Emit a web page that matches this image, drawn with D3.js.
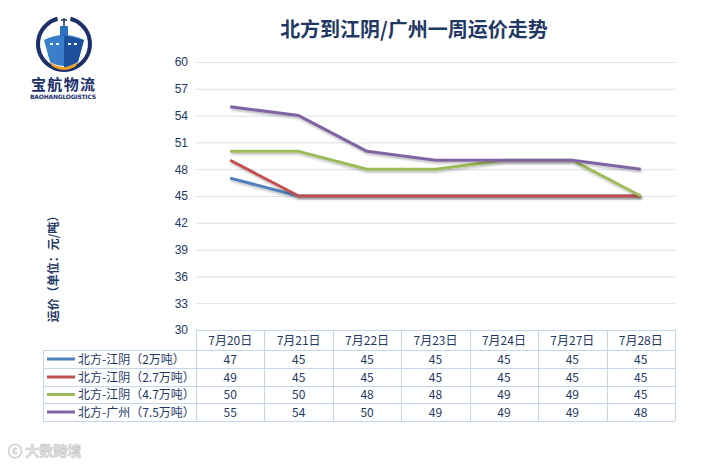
<!DOCTYPE html>
<html>
<head>
<meta charset="utf-8">
<script src="https://cdn.jsdelivr.net/npm/d3@7"></script>
<style>
  body { margin: 0; background: #fff; }
  svg { display: block; font-family: "Microsoft YaHei", "Noto Sans CJK SC", sans-serif; }
</style>
</head>
<body>
<div id="chart"></div>
<script>
// data
var categories = ["7月20日", "7月21日", "7月22日", "7月23日", "7月24日", "7月27日", "7月28日"];
var seriesNames = ["北方-江阴（2万吨）", "北方-江阴（2.7万吨）", "北方-江阴（4.7万吨）", "北方-广州（7.5万吨）"];
var jiangyin2 = [47, 45, 45, 45, 45, 45, 45];
var jiangyin27 = [49, 45, 45, 45, 45, 45, 45];
var jiangyin47 = [50, 50, 48, 48, 49, 49, 45];
var guangzhou75 = [55, 54, 50, 49, 49, 49, 48];
var yTicks = [30, 33, 36, 39, 42, 45, 48, 51, 54, 57, 60];
var colors = ["#4f81bd", "#c0504d", "#9bbb59", "#8064a2"];

var series = [jiangyin2, jiangyin27, jiangyin47, guangzhou75];

var W = 709, H = 464;
var plotLeft = 196, plotRight = 675, plotTop = 62, plotBottom = 330;
var textColor = "#1f3864";

var svg = d3.select("#chart").append("svg")
    .attr("width", W)
    .attr("height", H);

var defs = svg.append("defs");
var f = defs.append("filter").attr("id", "shadow").attr("x", "-5%").attr("y", "-20%").attr("width", "110%").attr("height", "140%");
f.append("feDropShadow").attr("dx", 1).attr("dy", 2).attr("stdDeviation", 1).attr("flood-color", "#000").attr("flood-opacity", 0.25);

var xScale = d3.scaleBand()
    .domain(categories)
    .range([plotLeft, plotRight]);

var yScale = d3.scaleLinear()
    .domain([30, 60])
    .range([plotBottom, plotTop]);

// title
svg.append("text")
    .attr("x", 414)
    .attr("y", 37)
    .attr("text-anchor", "middle")
    .attr("font-size", 20)
    .attr("font-weight", "bold")
    .attr("fill", textColor)
    .text("北方到江阴/广州一周运价走势");

// y axis + grid
var yAxis = d3.axisLeft(yScale)
    .tickValues(yTicks)
    .tickSize(-(plotRight - plotLeft))
    .tickPadding(8);

var yAxisGroup = svg.append("g")
    .attr("class", "y axis")
    .attr("transform", "translate(" + plotLeft + ",0)")
    .call(yAxis);

yAxisGroup.select(".domain").remove();
yAxisGroup.selectAll("line").attr("stroke", "#d9e1ea").attr("stroke-width", 1);
yAxisGroup.selectAll("text")
    .attr("font-size", 12)
    .attr("fill", textColor)
    .attr("font-family", "Liberation Sans, Arial, sans-serif");

// y label
svg.append("text")
    .attr("transform", "translate(58,266) rotate(-90)")
    .attr("text-anchor", "middle")
    .attr("font-size", 12)
    .attr("font-weight", "bold")
    .attr("fill", textColor)
    .text("运价（单位：元/吨）");

// lines
var line = d3.line()
    .x(function(d, i) { return xScale(categories[i]) + xScale.bandwidth() / 2; })
    .y(function(d) { return yScale(d); });

svg.selectAll(".series")
    .data(series)
    .enter()
    .append("path")
    .attr("class", "series")
    .attr("d", line)
    .attr("fill", "none")
    .attr("stroke", function(d, i) { return colors[i]; })
    .attr("stroke-width", 3)
    .attr("stroke-linejoin", "round")
    .attr("filter", "url(#shadow)");

// data table
var rowTops = [330, 350, 368, 386, 403, 421];
var tableLeft = 43;
var border = "#c6d6ea";
var tbl = svg.append("g").attr("class", "table");

// horizontal lines
tbl.selectAll(".hline")
    .data(rowTops)
    .enter()
    .append("line")
    .attr("x1", function(d, i) { return i === 0 ? plotLeft : tableLeft; })
    .attr("x2", plotRight)
    .attr("y1", function(d) { return d + 0.5; })
    .attr("y2", function(d) { return d + 0.5; })
    .attr("stroke", border);

// vertical lines
var colEdges = categories.map(function(c) { return xScale(c); }).concat([plotRight]);
tbl.selectAll(".vline")
    .data(colEdges)
    .enter()
    .append("line")
    .attr("x1", function(d) { return Math.round(d) + 0.5; })
    .attr("x2", function(d) { return Math.round(d) + 0.5; })
    .attr("y1", rowTops[0])
    .attr("y2", rowTops[5])
    .attr("stroke", border);
tbl.append("line")
    .attr("x1", tableLeft + 0.5).attr("x2", tableLeft + 0.5)
    .attr("y1", rowTops[1]).attr("y2", rowTops[5])
    .attr("stroke", border);

// header text
tbl.selectAll(".head")
    .data(categories)
    .enter()
    .append("text")
    .attr("x", function(d) { return xScale(d) + xScale.bandwidth() / 2; })
    .attr("y", 345)
    .attr("text-anchor", "middle")
    .attr("font-size", 12)
    .attr("fill", textColor)
    .text(function(d) { return d; });

// rows
series.forEach(function(vals, r) {
    var yMid = (rowTops[r + 1] + rowTops[r + 2]) / 2;
    tbl.append("line")
        .attr("x1", 47).attr("x2", 75)
        .attr("y1", yMid).attr("y2", yMid)
        .attr("stroke", colors[r])
        .attr("stroke-width", 3);
    tbl.append("text")
        .attr("x", 78)
        .attr("y", yMid + 4.5)
        .attr("font-size", 12)
        .attr("fill", textColor)
        .text(seriesNames[r]);
    tbl.selectAll(".cell" + r)
        .data(vals)
        .enter()
        .append("text")
        .attr("x", function(d, i) { return xScale(categories[i]) + xScale.bandwidth() / 2; })
        .attr("y", yMid + 4.5)
        .attr("text-anchor", "middle")
        .attr("font-size", 12)
        .attr("fill", textColor)
        .text(function(d) { return d; });
});

// logo
var logo = svg.append("g").attr("class", "logo");
logo.append("path")
    .attr("d", d3.arc()({ innerRadius: 24, outerRadius: 28, startAngle: 0.25, endAngle: 2 * Math.PI - 0.25 }))
    .attr("transform", "translate(64,44)")
    .attr("fill", "#1b2f6b");
logo.append("path")
    .attr("d", "M64,26 L64,18 M61,20 L67,20")
    .attr("stroke", "#1b2f6b").attr("stroke-width", 1.5);
logo.append("path")
    .attr("d", "M44,40 Q64,30 84,40 L78,62 Q64,70 50,62 Z")
    .attr("fill", "#3a7ec9");
logo.append("path")
    .attr("d", "M64,35 L84,40 L78,62 Q71,66 64,68 Z")
    .attr("fill", "#1e4f9c");
logo.append("rect").attr("x", 60).attr("y", 26).attr("width", 8).attr("height", 10).attr("fill", "#2f6fc0");
logo.append("path")
    .attr("d", "M50,62 Q64,72 78,62 L76,66 Q64,74 52,66 Z")
    .attr("fill", "#f0a020");
logo.selectAll(".win")
    .data([50, 56, 68, 74])
    .enter()
    .append("rect")
    .attr("x", function(d) { return d; })
    .attr("y", 43)
    .attr("width", 3)
    .attr("height", 2)
    .attr("fill", "#fff");
logo.append("text")
    .attr("x", 63).attr("y", 90)
    .attr("text-anchor", "middle")
    .attr("font-size", 15)
    .attr("font-weight", "bold")
    .attr("fill", "#1b2f6b")
    .attr("textLength", 64)
    .text("宝航物流");
logo.append("text")
    .attr("x", 63).attr("y", 99)
    .attr("text-anchor", "middle")
    .attr("font-size", 6)
    .attr("font-weight", "bold")
    .attr("fill", "#1b2f6b")
    .attr("textLength", 66)
    .attr("font-family", "DejaVu Sans, sans-serif")
    .text("BAOHANGLOGISTICS");

// watermark
svg.append("text")
    .attr("x", 8).attr("y", 456)
    .attr("font-size", 14)
    .attr("font-weight", "bold")
    .attr("fill", "#e4e4e4")
    .attr("stroke", "#c8c8c8")
    .attr("stroke-width", 0.6)
    .text("ⓒ 大数跨境");
</script>
</body>
</html>
